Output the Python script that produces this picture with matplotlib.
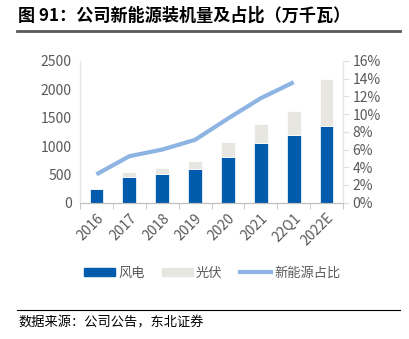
import matplotlib.pyplot as plt
import numpy as np
from matplotlib.patches import Patch
from matplotlib.lines import Line2D

plt.rcParams['font.family'] = ['Noto Sans CJK SC', 'DejaVu Sans']

cats = ['2016', '2017', '2018', '2019', '2020', '2021', '22Q1', '2022E']
wind = [250, 460, 505, 590, 810, 1050, 1200, 1355]
solar = [0, 80, 105, 145, 255, 335, 425, 825]
share_x = ['2016', '2017', '2018', '2019', '2020', '2021', '22Q1']
share = [3.2, 5.25, 6.0, 7.1, 9.5, 11.8, 13.6]

fig = plt.figure(figsize=(4.09, 3.39), dpi=100)
ax = fig.add_axes([80 / 409, 1 - 202.7 / 339, 263 / 409, 141.7 / 339])
ax2 = ax.twinx()

x = np.arange(len(cats))
ax.bar(x, wind, width=0.42, color='#005BAC', edgecolor='white', linewidth=0.5, zorder=2)
ax.bar(x, solar, width=0.42, bottom=wind, color='#E7E6E1', edgecolor='white', linewidth=0.5, zorder=2)
ax2.plot(np.arange(len(share_x)), share, color='#8DB4E2', lw=3, solid_capstyle='butt', zorder=3)

ax.set_xlim(-0.5, len(cats) - 0.5)
ax.set_ylim(0, 2500)
ax.set_yticks(range(0, 2501, 500))
ax2.set_ylim(0, 16)
ax2.set_yticks(range(0, 17, 2))
ax2.set_yticklabels([f'{v}%' for v in range(0, 17, 2)])

ax.set_xticks(x)
ax.set_xticklabels(cats, rotation=45, ha='right', rotation_mode='anchor')
ax.set_xticks(np.arange(-0.5, len(cats), 1), minor=True)
ax.tick_params(axis='x', which='major', length=0, pad=6, labelsize=10, labelcolor='#595959')
ax.tick_params(axis='x', which='minor', length=4, color='#BFBFBF')
ax.tick_params(axis='y', length=0, labelsize=10, labelcolor='#595959', pad=6)
ax2.tick_params(axis='y', length=4, color='#E0E0E0', labelsize=10, labelcolor='#595959', pad=3)

for a in (ax, ax2):
    a.spines['top'].set_visible(False)
    a.spines['left'].set_color('#E5E5E5')
    a.spines['right'].set_color('#E5E5E5')
    a.spines['bottom'].set_color('#BFBFBF')

# title
fig.text(18 / 409, 1 - 16 / 339, '图 91：公司新能源装机量及占比（万千瓦）', fontsize=12.3,
         fontweight='bold', va='center', ha='left', color='#000000')
fig.add_artist(plt.Line2D([17 / 409, 400 / 409], [1 - 31 / 339, 1 - 31 / 339], color='#595959', lw=2))

# legend
handles = [Patch(color='#005BAC'), Patch(color='#E7E6E1'), Line2D([], [], color='#8DB4E2', lw=3)]
fig.legend(handles, ['风电', '光伏', '新能源占比'], loc='center', bbox_to_anchor=(212 / 409, 1 - 273 / 339),
           ncol=3, frameon=False, fontsize=9.5, handlelength=2.4, handleheight=0.5, columnspacing=1.3,
           handletextpad=0.2, labelcolor='#595959')

fig.add_artist(plt.Line2D([17 / 409, 400 / 409], [1 - 310 / 339, 1 - 310 / 339], color='#000000', lw=0.8))
fig.text(18 / 409, 1 - 323 / 339, '数据来源：公司公告，东北证券', fontsize=9.5, va='center', ha='left')

fig.savefig('out.png', dpi=100)
